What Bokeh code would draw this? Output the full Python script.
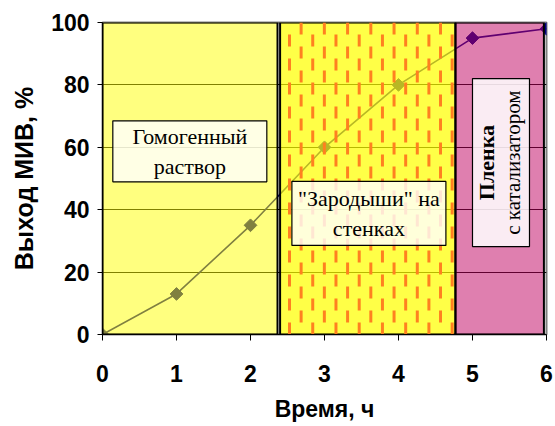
import numpy as np
from bokeh.plotting import figure
from bokeh.models import Range1d, FixedTicker
from bokeh.core.properties import value
from bokeh.embed import file_html
from bokeh.resources import INLINE

# ---- data ----
time_h = [0, 1, 2, 3, 4, 5, 6]
yield_pct = [0, 13, 35, 60, 80, 95, 98]
x_ticks = [0, 1, 2, 3, 4, 5, 6]
y_ticks = [0, 20, 40, 60, 80, 100]

# phase regions (time, h)
region_left = [0.0, 2.40, 4.77]
region_right = [2.365, 4.77, 5.965]

# annotation boxes
box1_text = ["Гомогенный\nраствор"]
box1_x, box1_y = [1.18], [58.7]
box2_text = ['"Зародыши" на\nстенках']
box2_x, box2_y = [3.60], [38.8]
box3_bold = ["Пленка"]
box3_normal = ["с катализатором"]
box3_x, box3_y = [5.385], [55.1]

AX_FONT = "Liberation Sans"
TXT_FONT = "Liberation Serif"

p = figure(width=555, height=426, x_range=Range1d(0, 6), y_range=Range1d(0, 100),
           output_backend="svg", toolbar_location=None,
           min_border_left=102, min_border_right=9, min_border_top=22, min_border_bottom=92,
           background_fill_color="white", border_fill_color="white")

p.outline_line_color = "#808080"
p.outline_line_width = 2
p.xgrid.grid_line_color = None
p.ygrid.grid_line_color = "black"
p.ygrid.grid_line_width = 1
p.ygrid.ticker = FixedTicker(ticks=y_ticks)

p.xaxis.ticker = FixedTicker(ticks=x_ticks)
p.yaxis.ticker = FixedTicker(ticks=y_ticks)
for ax in (p.xaxis[0], p.yaxis[0]):
    ax.minor_tick_line_color = None
    ax.major_tick_in = 0
    ax.axis_line_color = "black"
    ax.axis_line_width = 1
    ax.major_tick_line_color = "black"
    ax.major_label_text_font = AX_FONT
    ax.major_label_text_font_size = "23px"
    ax.major_label_text_font_style = "bold"
    ax.major_label_text_color = "black"
    ax.axis_label_text_font = AX_FONT
    ax.axis_label_text_font_style = "bold"
    ax.axis_label_text_color = "black"
p.xaxis.major_tick_out = 6
p.xaxis.major_label_standoff = 24
p.xaxis.axis_label = "Время, ч"
p.xaxis.axis_label_text_font_size = "23px"
p.xaxis.axis_label_standoff = 11
p.yaxis.major_tick_out = 5
p.yaxis.major_label_standoff = 8
p.yaxis.axis_label = "Выход МИВ, %"
p.yaxis.axis_label_text_font_size = "25px"
p.yaxis.axis_label_standoff = 10

# data line (navy), later tinted by translucent region overlays
p.line(time_h, yield_pct, line_color="#000080", line_width=1.6)
p.scatter(time_h, yield_pct, marker="square", angle=np.pi / 4, size=9,
          fill_color="#000080", line_color="#000080")

# region overlays
p.quad(left=[region_left[0]], right=[region_right[0]], bottom=[0], top=[100],
       fill_color="#FFFF00", fill_alpha=0.5, line_color="black", line_width=2)
p.quad(left=[region_left[1]], right=[region_right[1]], bottom=[0], top=[100],
       fill_color="#FFFF00", fill_alpha=0.72, line_color="black", line_width=2)
p.quad(left=[region_left[2]], right=[region_right[2]], bottom=[0], top=[100],
       fill_color="#C00060", fill_alpha=0.5, line_color="black", line_width=2)

# dashed pattern in the middle region
step = 0.157
cols = np.arange(region_left[1] + 0.127, region_right[1] - 0.03, step)
even = cols[0::2]
odd = cols[1::2]
p.segment(x0=even, y0=[0] * len(even), x1=even, y1=[100] * len(even),
          line_color="#FF8020", line_width=3, line_dash="12 12", line_dash_offset=0)
p.segment(x0=odd, y0=[0] * len(odd), x1=odd, y1=[100] * len(odd),
          line_color="#FF8020", line_width=3, line_dash="12 12", line_dash_offset=12)

# annotation boxes
p.rect(x=box1_x, y=box1_y, width=154, height=61, width_units="screen", height_units="screen",
       fill_color="white", fill_alpha=0.8, line_color="black", line_width=1.2)
p.rect(x=box2_x, y=box2_y, width=154, height=64, width_units="screen", height_units="screen",
       fill_color="white", fill_alpha=0.8, line_color="black", line_width=1.2)
p.rect(x=box3_x, y=box3_y, width=57, height=168, width_units="screen", height_units="screen",
       fill_color="white", fill_alpha=0.85, line_color="black", line_width=1.2)

p.text(x=box1_x, y=box1_y, text=box1_text, text_font=value(TXT_FONT), text_font_size="22px",
       text_align="center", text_baseline="middle", text_line_height=1.2, text_color="black")
p.text(x=box2_x, y=box2_y, text=box2_text, text_font=value(TXT_FONT), text_font_size="22px",
       text_align="center", text_baseline="middle", text_line_height=1.2, text_color="black")
p.text(x=box3_x, y=box3_y, text=box3_bold, angle=np.pi / 2, x_offset=-14,
       text_font=value(TXT_FONT), text_font_size="22px", text_font_style="bold",
       text_align="center", text_baseline="middle", text_color="black")
p.text(x=box3_x, y=box3_y, text=box3_normal, angle=np.pi / 2, x_offset=12,
       text_font=value(TXT_FONT), text_font_size="21px",
       text_align="center", text_baseline="middle", text_color="black")

open("out.html", "w").write(file_html(p, INLINE))
